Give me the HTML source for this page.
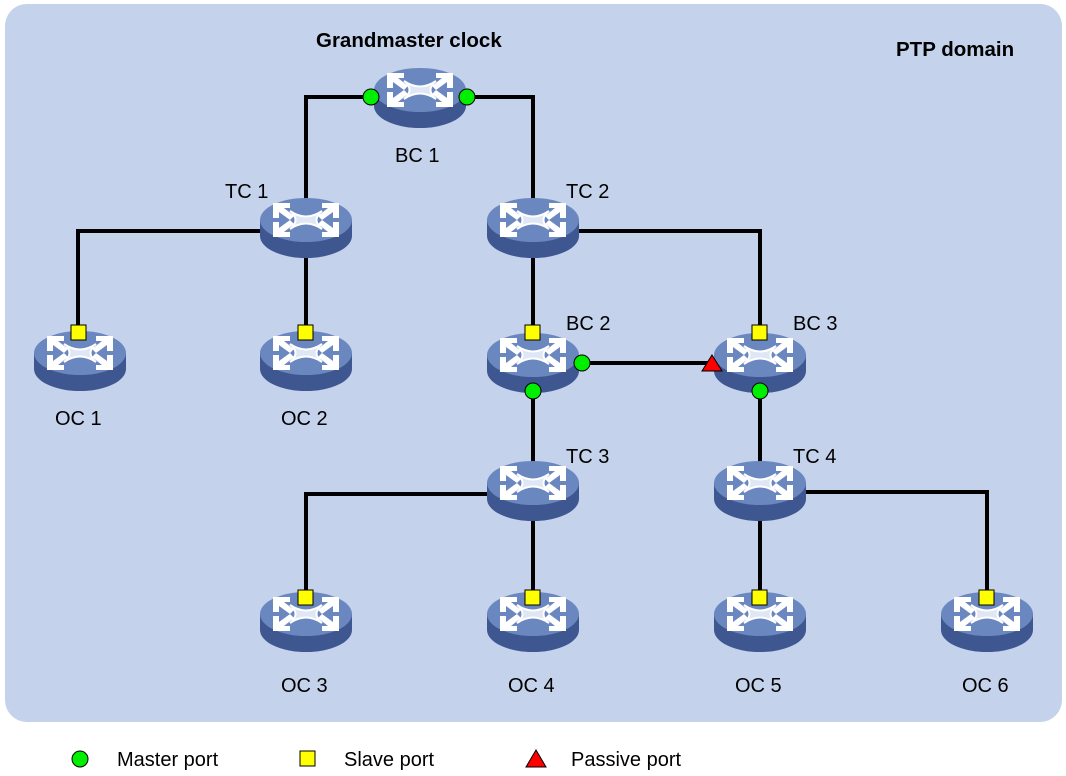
<!DOCTYPE html>
<html><head><meta charset="utf-8"><style>
html,body{margin:0;padding:0;background:#fff;}
svg{display:block;font-family:"Liberation Sans",Arial,sans-serif;}
</style></head><body>
<svg width="1066" height="776" viewBox="0 0 1066 776" xmlns="http://www.w3.org/2000/svg">
<defs>
<g id="dev">
<ellipse cx="0" cy="16" rx="46" ry="22" fill="#3f5791"/>
<rect x="-46" y="0" width="92" height="16" fill="#3f5791"/>
<ellipse cx="0" cy="0" rx="46" ry="22" fill="#6b87c0"/>
<g fill="#fff">
<polygon points="-33,-17 -16,-17 -16,-12 -22,-12 -12,-4 -16,0 -27,-8 -27,-2 -33,-2"/>
<polygon points="33,-17 16,-17 16,-12 22,-12 12,-4 16,0 27,-8 27,-2 33,-2"/>
<polygon points="-33,17 -16,17 -16,12 -22,12 -12,4 -16,0 -27,8 -27,2 -33,2"/>
<polygon points="33,17 16,17 16,12 22,12 12,4 16,0 27,8 27,2 33,2"/>
</g>
<path d="M-16,-9 Q0,2 16,-9 Q5,0 16,9 Q0,-2 -16,9 Q-5,0 -16,-9Z" fill="#dfe7f5" stroke="#fff" stroke-width="2"/>
</g>
</defs>
<rect x="5" y="4" width="1057" height="718" rx="22" fill="#c4d2eb"/>
<g stroke="#000" stroke-width="4" fill="none">
<polyline points="371,97 306,97 306,210"/>
<polyline points="467,97 533,97 533,210"/>
<polyline points="306,231 78,231 78,335"/>
<line x1="306" y1="231" x2="306" y2="335"/>
<line x1="533" y1="231" x2="533" y2="335"/>
<polyline points="533,231 760,231 760,335"/>
<line x1="582" y1="363" x2="712" y2="363"/>
<line x1="533" y1="391" x2="533" y2="470"/>
<line x1="760" y1="391" x2="760" y2="470"/>
<polyline points="533,494 306,494 306,600"/>
<line x1="533" y1="494" x2="533" y2="600"/>
<line x1="760" y1="494" x2="760" y2="600"/>
<polyline points="760,492 987,492 987,600"/>
</g>
<use href="#dev" x="420" y="90"/>
<use href="#dev" x="306" y="220"/>
<use href="#dev" x="533" y="220"/>
<use href="#dev" x="80" y="353"/>
<use href="#dev" x="306" y="353"/>
<use href="#dev" x="533" y="355"/>
<use href="#dev" x="760" y="355"/>
<use href="#dev" x="533" y="483"/>
<use href="#dev" x="760" y="483"/>
<use href="#dev" x="306" y="614"/>
<use href="#dev" x="533" y="614"/>
<use href="#dev" x="760" y="614"/>
<use href="#dev" x="987" y="614"/>
<g fill="#00ee00" stroke="#000" stroke-width="1">
<circle cx="371" cy="97" r="8"/><circle cx="467" cy="97" r="8"/>
<circle cx="582" cy="363" r="8"/><circle cx="533" cy="391" r="8"/>
<circle cx="760" cy="391" r="8"/>
<circle cx="80" cy="759" r="8"/>
</g>
<g fill="#ffff00" stroke="#000" stroke-width="1">
<rect x="71" y="325" width="15" height="15"/>
<rect x="298" y="325" width="15" height="15"/>
<rect x="525" y="325" width="15" height="15"/>
<rect x="752" y="325" width="15" height="15"/>
<rect x="298" y="590" width="15" height="15"/>
<rect x="525" y="590" width="15" height="15"/>
<rect x="752" y="590" width="15" height="15"/>
<rect x="979" y="590" width="15" height="15"/>
<rect x="300" y="751" width="15" height="15"/>
</g>
<g fill="#ff0000" stroke="#000" stroke-width="1">
<polygon points="712,355 722,371 702,371"/>
<polygon points="536,750 546,767 526,767"/>
</g>
<g font-size="20" fill="#000">
<text x="316" y="47" font-weight="bold" font-size="20.5">Grandmaster clock</text>
<text x="896" y="56" font-weight="bold" font-size="20.5">PTP domain</text>
<text x="395" y="162">BC 1</text>
<text x="225" y="198">TC 1</text>
<text x="566" y="198">TC 2</text>
<text x="566" y="330">BC 2</text>
<text x="793" y="330">BC 3</text>
<text x="55" y="425">OC 1</text>
<text x="281" y="425">OC 2</text>
<text x="566" y="463">TC 3</text>
<text x="793" y="463">TC 4</text>
<text x="281" y="692">OC 3</text>
<text x="508" y="692">OC 4</text>
<text x="735" y="692">OC 5</text>
<text x="962" y="692">OC 6</text>
<text x="117" y="766">Master port</text>
<text x="344" y="766">Slave port</text>
<text x="571" y="766">Passive port</text>
</g>
</svg>
</body></html>
